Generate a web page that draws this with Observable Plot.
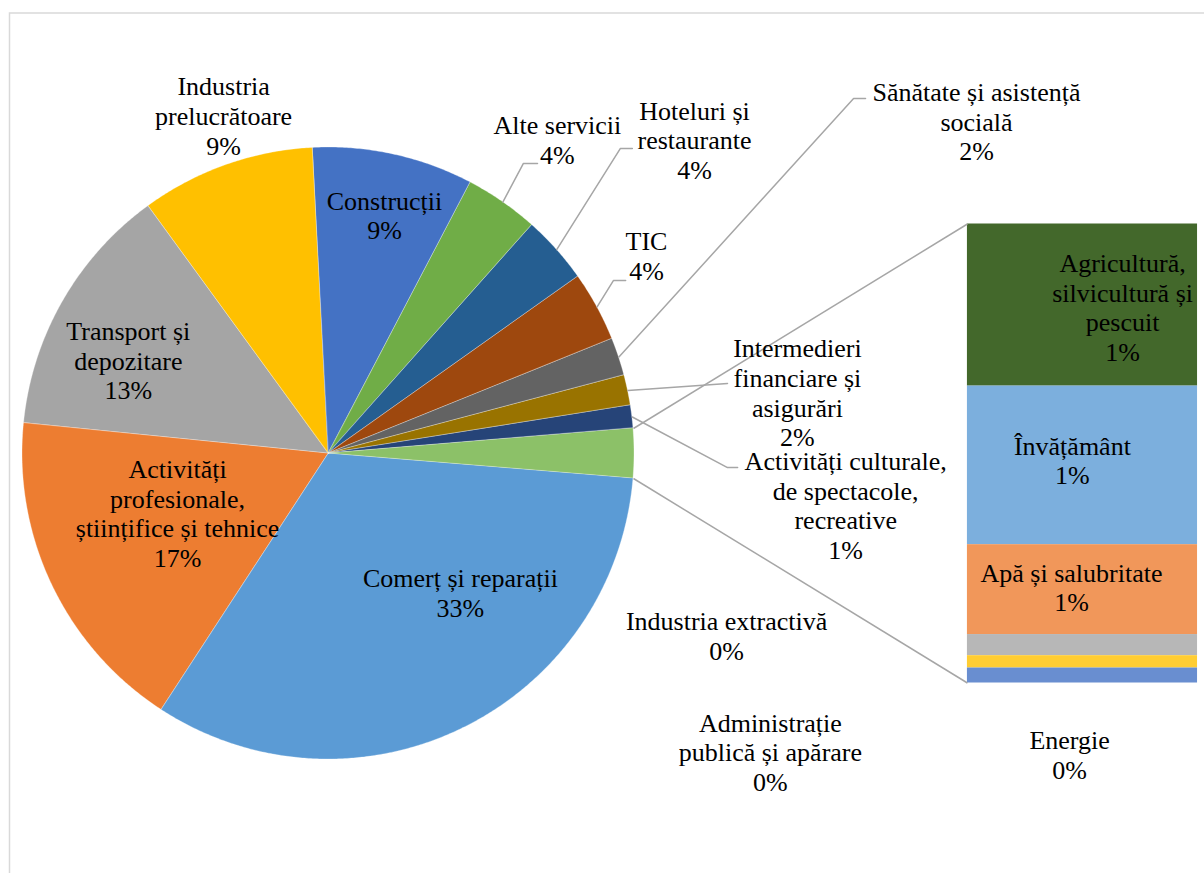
<!DOCTYPE html>
<html>
<head>
<meta charset="utf-8">
<script src="https://cdn.jsdelivr.net/npm/d3@7"></script>
<script src="https://cdn.jsdelivr.net/npm/@observablehq/plot@0.6"></script>
<style>
  html, body { margin: 0; padding: 0; background: #fff; overflow: hidden; }
  #chart { width: 1204px; height: 873px; }
</style>
</head>
<body>
<div id="chart"></div>
<script>
// ---------------- DATA ----------------
// Main pie slices (clockwise, starting right after the "other" slice at 3 o'clock)
const pieCategories = [
  "Comerț și reparații",
  "Activități\nprofesionale,\nștiințifice și tehnice",
  "Transport și\ndepozitare",
  "Industria\nprelucrătoare",
  "Construcții",
  "Alte servicii",
  "Hoteluri și\nrestaurante",
  "TIC",
  "Sănătate și asistență\nsocială",
  "Intermedieri\nfinanciare și\nasigurări",
  "Activități culturale,\nde spectacole,\nrecreative"
];
const pieValues = [32.9, 17.4, 13.4, 9.2, 8.5, 3.9, 3.6, 3.7, 2.0, 1.6, 1.2];

// Secondary bar (top to bottom)
const barCategories = [
  "Agricultură,\nsilvicultură și\npescuit",
  "Învățământ",
  "Apă și salubritate",
  "Industria extractivă",
  "Administrație\npublică și apărare",
  "Energie"
];
const barValues = [0.92, 0.90, 0.51, 0.12, 0.07, 0.085];
const otherName = "Alte ramuri";

// ---------------- STYLE ----------------
const piePalette = ["#5B9BD5", "#ED7D31", "#A5A5A5", "#FFC000", "#4472C4", "#70AD47",
                    "#255E91", "#9E480E", "#636363", "#997300", "#264478"];
const otherColor = "#8CC168";
const barPalette = ["#43682B", "#7CAFDD", "#F1975A", "#B7B7B7", "#FFCD33", "#698ED0"];
const leaderColor = "#A6A6A6";
const fontFamily = "'Liberation Serif', 'Times New Roman', serif";

// ---------------- LAYOUT ----------------
const W = 1204, H = 873, R_PX = 306, CX_PX = 328, CY_PX = 453; // pie radius & centre (px)
const barX = [2.088, 2.840];   // bar left/right, in pie radii
const barHalf = 0.75;          // bar half height, in pie radii
// pie label anchors: [angle (deg clockwise from 12 o'clock), distance in radii]
const pieLabelPos = [
  [136.74, 0.629], [-112.0, 0.532], [-65.3, 0.720], [-17.3, 1.153], [13.29, 0.796],
  [36.25, 1.265], [49.54, 1.572], [58.33, 1.221], [62.94, 2.378], [82.71, 1.545], [95.84, 1.699]
];
// leader lines: slice index -> [elbow, end] in radii
const leaderLayout = {
  5: [[0.637, 0.948], [0.683, 0.948]],
  6: [[0.954, 0.997], [0.993, 0.997]],
  7: [[0.931, 0.565], [0.971, 0.565]],
  8: [[1.716, 1.160], [1.755, 1.160]],
  9: [[1.304, 0.229], [1.304, 0.229]],
  10: [[1.304, -0.046], [1.337, -0.046]]
};
// bar label offsets from segment centre, in radii
const barLabelOffset = [
  [0.131, -0.011], [-0.033, 0.013], [-0.036, 0.004],
  [-1.163, 0.028], [-1.020, -0.299], [-0.042, -0.264]
];

// ---------------- GEOMETRY FROM DATA ----------------
(function () {
const otherValue = d3.sum(barValues);
const total = d3.sum(pieValues) + otherValue;
const degPer = 360 / total;
const rad = d => d * Math.PI / 180;
const polar = (deg, r) => ({x: r * Math.sin(rad(deg)), y: r * Math.cos(rad(deg))});
const fmt = v => Math.round(v) + "%";

let a = 90 + otherValue * degPer / 2;
const slices = pieCategories.map((name, i) => {
  const a0 = a; a += pieValues[i] * degPer;
  return {name, value: pieValues[i], a0, a1: a, i};
});
const otherSlice = {name: otherName, value: otherValue,
  a0: 90 - otherValue * degPer / 2, a1: 90 + otherValue * degPer / 2};
const allSlices = [...slices, otherSlice];

const arcPts = allSlices.flatMap(s => {
  const n = Math.max(2, Math.ceil((s.a1 - s.a0) / 0.4));
  return d3.range(n + 1).map(j => {
    const p = polar(s.a0 + (s.a1 - s.a0) * j / n, 1);
    return {name: s.name, x: p.x, y: p.y, cx: 0, cy: 0};
  });
});

const barScale = 2 * barHalf / otherValue;
let barTop = barHalf;
const segs = barCategories.map((name, i) => {
  const y2 = barTop; barTop -= barValues[i] * barScale;
  return {name, value: barValues[i], y1: barTop, y2, x1: barX[0], x2: barX[1]};
});

const pUp = polar(otherSlice.a0, 1), pDn = polar(otherSlice.a1, 1);
const connectors = [
  {x1: pUp.x, y1: pUp.y, x2: barX[0], y2: barHalf},
  {x1: pDn.x, y1: pDn.y, x2: barX[0], y2: -barHalf}
];

const leaderPts = Object.entries(leaderLayout).flatMap(([k, [elbow, end]]) => {
  const s = slices[+k];
  const p = polar((s.a0 + s.a1) / 2, 1);
  return [
    {name: s.name, x: p.x, y: p.y},
    {name: s.name, x: elbow[0], y: elbow[1]},
    {name: s.name, x: end[0], y: end[1]}
  ];
});

const labels = [
  ...slices.map((s, i) => {
    const p = polar(pieLabelPos[i][0], pieLabelPos[i][1]);
    return {x: p.x, y: p.y, text: s.name + "\n" + fmt(s.value)};
  }),
  ...segs.map((s, i) => ({
    x: (s.x1 + s.x2) / 2 + barLabelOffset[i][0],
    y: (s.y1 + s.y2) / 2 + barLabelOffset[i][1],
    text: s.name + "\n" + fmt(s.value)
  }))
];

const plot = Plot.plot({
  width: W, height: H, margin: 0,
  x: {domain: [-CX_PX / R_PX, (W - CX_PX) / R_PX], axis: null},
  y: {domain: [-(H - CY_PX) / R_PX, CY_PX / R_PX], axis: null},
  color: {domain: [...pieCategories, otherName, ...barCategories],
          range: [...piePalette, otherColor, ...barPalette]},
  style: {fontFamily, background: "#fff"},
  marks: [
    Plot.frame({stroke: "#D9D9D9", strokeWidth: 1.5, insetLeft: 9, insetTop: 12.5, insetRight: -10, insetBottom: -10}),
    Plot.area(arcPts, {x1: "x", y1: "y", x2: "cx", y2: "cy", z: "name", fill: "name",
                       stroke: "#ffffff", strokeOpacity: 0.5, strokeWidth: 0.6, curve: "linear"}),
    Plot.rect(segs, {x1: "x1", x2: "x2", y1: "y1", y2: "y2", fill: "name"}),
    Plot.link(connectors, {x1: "x1", y1: "y1", x2: "x2", y2: "y2", stroke: leaderColor, strokeWidth: 1.5}),
    Plot.line(leaderPts, {x: "x", y: "y", z: "name", stroke: leaderColor, strokeWidth: 1.5}),
    Plot.text(labels, {x: "x", y: "y", text: "text", fontSize: 26, lineHeight: 1.15, dy: -1.5,
                       textAnchor: "middle", lineAnchor: "middle", fill: "#000", fontFamily})
  ]
});
document.getElementById("chart").append(plot);
})();
</script>
</body>
</html>
